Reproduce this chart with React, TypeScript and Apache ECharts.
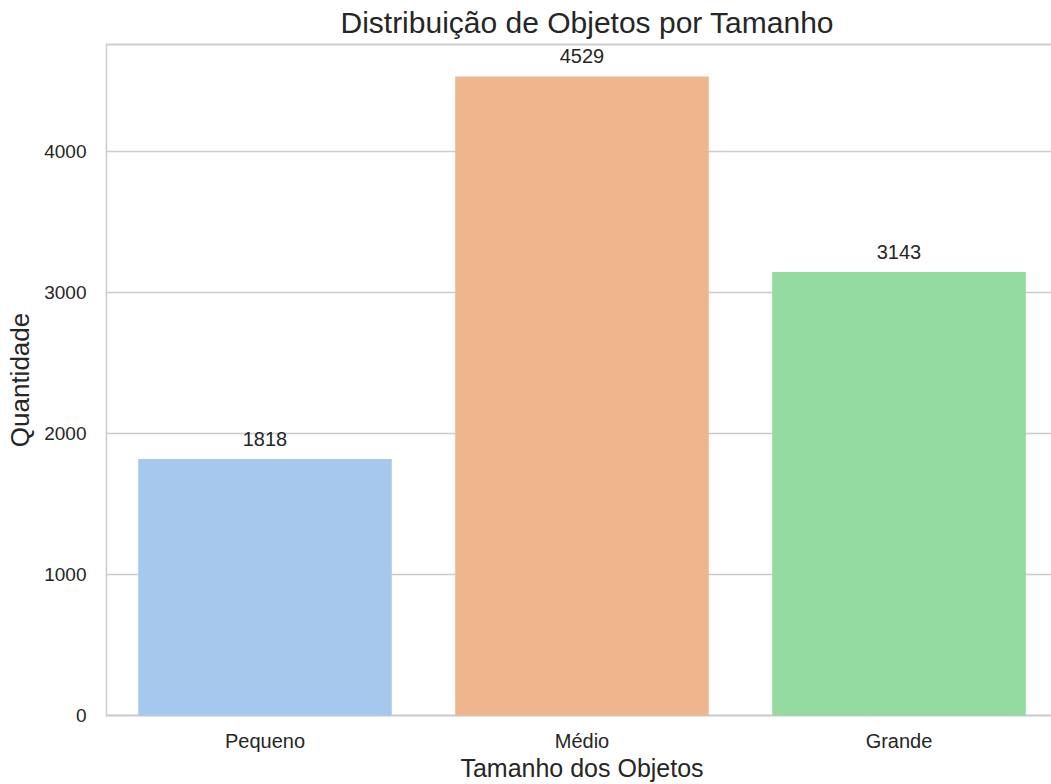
import React, { useEffect, useRef } from "react";
import * as echarts from "echarts";

const categories = ["Pequeno", "Médio", "Grande"];
const values = [1818, 4529, 3143];
const barColors = ["#a7c8ed", "#efb68e", "#94dba1"];
const yTicks = [0, 1000, 2000, 3000, 4000];

const FONT = "'Liberation Sans', Arial, Helvetica, sans-serif";
const TEXT = "#262626";

export default function App() {
  const ref = useRef<HTMLDivElement>(null);
  useEffect(() => {
    if (!ref.current) return;
    const chart = echarts.init(ref.current, undefined, { renderer: "svg" });
    const yMax = Math.max(...values) * 1.05;
    chart.setOption({
      animation: false,
      backgroundColor: "#ffffff",
      textStyle: { fontFamily: FONT },
      title: {
        text: "Distribuição de Objetos por Tamanho",
        left: 582,
        textAlign: "center",
        top: 2,
        textStyle: { fontFamily: FONT, fontSize: 30, fontWeight: "normal", color: TEXT },
      },
      grid: {
        left: 106.5,
        top: 44.5,
        width: 951,
        height: 671,
        outerBoundsMode: "none",
        containLabel: false,
        show: true,
        borderColor: "#cccccc",
        borderWidth: 1.3,
        backgroundColor: "transparent",
      },
      xAxis: {
        type: "category",
        data: categories,
        name: "Tamanho dos Objetos",
        nameLocation: "middle",
        nameGap: 40,
        nameTextStyle: { fontFamily: FONT, fontSize: 25, color: TEXT },
        axisLine: { show: true, lineStyle: { color: "#cccccc", width: 1.3 } },
        axisTick: { show: false },
        splitLine: { show: false },
        axisLabel: { fontFamily: FONT, fontSize: 20, color: TEXT, margin: 15 },
      },
      yAxis: {
        type: "value",
        min: yTicks[0],
        max: yMax,
        interval: yTicks[1] - yTicks[0],
        name: "Quantidade",
        nameLocation: "middle",
        nameGap: 71,
        nameTextStyle: { fontFamily: FONT, fontSize: 26, color: TEXT },
        axisLine: { show: true, lineStyle: { color: "#cccccc", width: 1.3 } },
        axisTick: { show: false },
        splitLine: { show: true, lineStyle: { color: "#cccccc", width: 1.3 } },
        axisLabel: {
          fontFamily: FONT,
          fontSize: 19,
          color: TEXT,
          margin: 20,
          showMaxLabel: false,
          formatter: (v: number) => (yTicks.includes(v) ? String(v) : ""),
        },
      },
      series: [
        {
          type: "bar",
          data: values.map((v, i) => ({ value: v, itemStyle: { color: barColors[i] } })),
          barCategoryGap: "20%",
          label: {
            show: true,
            position: "top",
            distance: 10,
            fontFamily: FONT,
            fontSize: 20,
            color: TEXT,
          },
        },
      ],
    });
    return () => chart.dispose();
  }, []);
  return (
    <div
      ref={ref}
      style={{ position: "fixed", left: 0, top: 0, width: 1051, height: 784 }}
    />
  );
}
